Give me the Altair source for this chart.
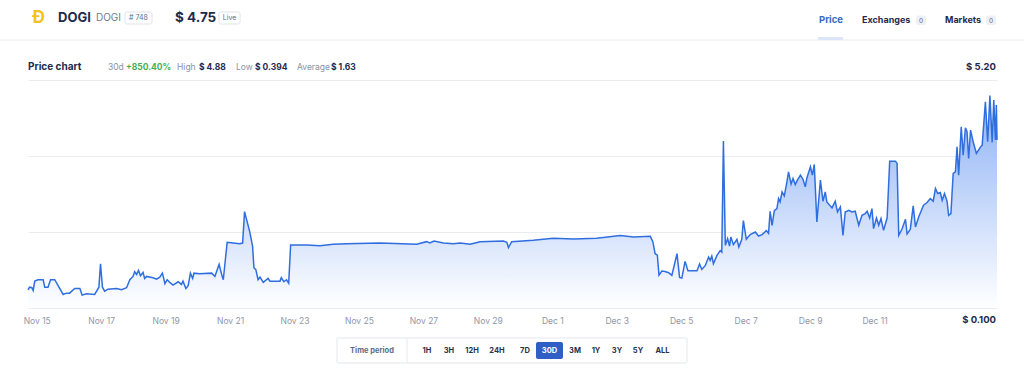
import altair as alt
import pandas as pd

# ---- data (days after Nov 15 2023, price in USD) ----
day_offsets = [
    -0.27, -0.22, -0.15, -0.11, -0.06, 0.04, 0.20, 0.25, 0.35, 0.43, 0.56, 0.82, 0.92, 1.02, 1.18, 1.34,
    1.41, 1.54, 1.80, 1.93, 1.98, 2.04, 2.11, 2.21, 2.48, 2.63, 2.79, 2.89, 2.99, 3.04, 3.10, 3.16,
    3.22, 3.30, 3.35, 3.41, 3.61, 3.72, 3.82, 3.90, 3.98, 4.05, 4.13, 4.23, 4.39, 4.49, 4.54, 4.63,
    4.70, 4.77, 4.84, 4.88, 5.06, 5.43, 5.53, 5.66, 5.74, 5.79, 5.91, 6.10, 6.30, 6.39, 6.45, 6.61,
    6.70, 6.74, 6.80, 6.87, 6.93, 7.03, 7.18, 7.24, 7.55, 7.59, 7.67, 7.75, 7.82, 7.88, 8.38, 8.79,
    9.20, 9.62, 10.65, 11.79, 12.10, 12.20, 12.33, 12.62, 12.93, 13.14, 13.45, 13.76, 14.48, 14.59, 14.64, 14.74,
    15.41, 16.03, 16.66, 17.38, 18.11, 18.52, 19.04, 19.12, 19.19, 19.26, 19.31, 19.40, 19.50, 19.61, 19.71, 19.87,
    19.95, 20.02, 20.12, 20.21, 20.49, 20.57, 20.64, 20.75, 20.85, 20.90, 20.95, 21.00, 21.11, 21.21, 21.26, 21.31,
    21.37, 21.44, 21.50, 21.54, 21.62, 21.73, 21.79, 21.88, 21.93, 22.02, 22.14, 22.30, 22.40, 22.51, 22.64, 22.71,
    22.76, 22.82, 22.89, 22.97, 23.02, 23.07, 23.13, 23.20, 23.28, 23.33, 23.41, 23.47, 23.54, 23.61, 23.70, 23.78,
    23.85, 23.90, 24.01, 24.07, 24.13, 24.21, 24.32, 24.40, 24.47, 24.52, 24.68, 24.78, 24.85, 24.94, 25.02, 25.09,
    25.20, 25.30, 25.40, 25.51, 25.61, 25.71, 25.77, 25.85, 25.92, 25.97, 26.06, 26.13, 26.20, 26.28, 26.39, 26.47,
    26.65, 26.70, 26.75, 26.85, 26.96, 27.01, 27.11, 27.20, 27.27, 27.37, 27.52, 27.63, 27.73, 27.82, 27.89, 27.96,
    28.04, 28.10, 28.17, 28.25, 28.30, 28.37, 28.44, 28.51, 28.56, 28.61, 28.69, 28.75, 28.82, 28.87, 28.92, 28.98,
    29.06, 29.16, 29.29, 29.34, 29.44, 29.51, 29.58, 29.65, 29.70, 29.75, 29.78, 29.80,
]
prices = [
    0.508, 0.566, 0.553, 0.492, 0.701, 0.732, 0.732, 0.566, 0.566, 0.732, 0.732, 0.403, 0.432, 0.432, 0.537, 0.537,
    0.387, 0.418, 0.403, 0.566, 1.091, 0.566, 0.477, 0.522, 0.537, 0.508, 0.553, 0.732, 0.806, 0.912, 0.851, 0.941,
    0.822, 0.896, 0.761, 0.806, 0.777, 0.746, 0.791, 0.880, 0.643, 0.732, 0.672, 0.611, 0.687, 0.627, 0.701, 0.537,
    0.598, 0.880, 0.761, 0.880, 0.867, 0.880, 0.806, 1.075, 0.851, 0.732, 1.569, 1.553, 1.539, 1.553, 2.257, 1.809,
    1.479, 1.001, 0.957, 0.732, 0.791, 0.672, 0.761, 0.701, 0.701, 0.777, 0.687, 0.732, 0.656, 1.508, 1.508, 1.495,
    1.524, 1.539, 1.553, 1.524, 1.584, 1.553, 1.598, 1.553, 1.539, 1.553, 1.524, 1.584, 1.598, 1.569, 1.450, 1.584,
    1.613, 1.658, 1.643, 1.658, 1.719, 1.687, 1.703, 1.584, 1.315, 1.284, 0.835, 0.925, 0.918, 0.889, 0.829, 1.315,
    0.784, 0.768, 1.143, 0.934, 0.934, 1.082, 0.963, 1.053, 1.239, 1.165, 1.261, 1.091, 1.277, 1.383, 1.351, 3.833,
    1.501, 1.652, 1.486, 1.687, 1.517, 1.636, 1.463, 1.636, 2.055, 1.636, 1.741, 1.800, 1.710, 1.741, 1.831, 1.770,
    2.264, 1.950, 2.279, 2.324, 2.548, 2.472, 2.696, 2.607, 2.921, 3.145, 2.876, 2.997, 2.862, 2.966, 3.071, 2.981,
    2.809, 3.010, 3.257, 3.071, 3.311, 2.024, 2.959, 2.488, 2.696, 2.472, 2.338, 2.488, 2.248, 2.360, 1.726, 2.248,
    2.286, 2.248, 2.264, 1.950, 2.174, 2.212, 2.264, 2.113, 2.324, 1.876, 2.113, 1.950, 2.100, 1.838, 2.113, 3.385,
    3.385, 3.333, 1.726, 1.860, 2.084, 1.755, 1.860, 2.383, 1.912, 2.136, 2.398, 2.459, 2.548, 2.488, 2.773, 2.661,
    2.683, 2.510, 2.661, 2.488, 2.174, 2.212, 3.109, 3.145, 3.705, 3.071, 4.154, 3.519, 4.131, 4.042, 3.445, 4.080,
    3.818, 3.557, 3.705, 3.744, 4.714, 3.818, 4.850, 3.804, 4.753, 3.856, 4.640, 3.856,
]
tick_days = ["2023-11-15", "2023-11-17", "2023-11-19", "2023-11-21", "2023-11-23", "2023-11-25", "2023-11-27",
             "2023-11-29", "2023-12-01", "2023-12-03", "2023-12-05", "2023-12-07", "2023-12-09", "2023-12-11"]
y_min, y_max = 0.1, 5.2
grid_values = [0.1, 1.8, 3.5, 5.2]
periods = ["1H", "3H", "12H", "24H", "7D", "30D", "3M", "1Y", "3Y", "5Y", "ALL"]

base = pd.Timestamp("2023-11-15")
df = pd.DataFrame({
    "time": [base + pd.to_timedelta(d, unit="D") for d in day_offsets],
    "price": prices,
})

FONT = "Inter"
LEFT, TOP = 28, 80
W, H = 969, 228

x_enc = alt.X("time:T", title=None,
              scale=alt.Scale(nice=False),
              axis=alt.Axis(values=[alt.DateTime(year=int(s[:4]), month=int(s[5:7]), date=int(s[8:]))
                                    for s in tick_days],
                            format="%b %-d", grid=False, ticks=False, domain=False,
                            labelPadding=8, labelFontSize=8.5, labelColor="#8e97a9",
                            labelFont=FONT))
y_enc = alt.Y("price:Q", title=None,
              scale=alt.Scale(domain=[y_min, y_max], nice=False, zero=False),
              axis=alt.Axis(values=grid_values, labels=False, ticks=False, domain=False,
                            gridColor="#e9edf2", gridWidth=1))

area = alt.Chart(df).mark_area(
    color=alt.Gradient(gradient="linear",
                       stops=[alt.GradientStop(color="#ffffff", offset=0),
                              alt.GradientStop(color="#8bb0f5", offset=1)],
                       x1=1, x2=1, y1=1, y2=0),
    line=False,
).encode(x=x_enc, y=y_enc, y2=alt.datum(y_min))

line = alt.Chart(df).mark_line(color="#2f6ee0", strokeWidth=1.5).encode(x=x_enc, y=y_enc)

one = alt.Data(values=[{}])


def txt(s, x, y, size=9, color="#1f2b4d", weight="normal", align="left"):
    return alt.Chart(one).mark_text(text=s, font=FONT, fontSize=size, color=color,
                                    fontWeight=weight, align=align, baseline="middle").encode(
        x=alt.value(x - LEFT), y=alt.value(y - TOP))


def box(x1, x2, y1, y2, fill="#ffffff", stroke=None, radius=2):
    kw = dict(fill=fill, cornerRadius=radius)
    if stroke:
        kw.update(stroke=stroke, strokeWidth=1)
    return alt.Chart(one).mark_rect(**kw).encode(
        x=alt.value(x1 - LEFT), x2=alt.value(x2 - LEFT),
        y=alt.value(y1 - TOP), y2=alt.value(y2 - TOP))


def hrule(x1, x2, y, color="#e7eaf0", width=1):
    return alt.Chart(one).mark_rule(color=color, strokeWidth=width).encode(
        x=alt.value(x1 - LEFT), x2=alt.value(x2 - LEFT), y=alt.value(y - TOP))


def vrule(x, y1, y2, color="#e7eaf0"):
    return alt.Chart(one).mark_rule(color=color, strokeWidth=1).encode(
        x=alt.value(x - LEFT), y=alt.value(y1 - TOP), y2=alt.value(y2 - TOP))


deco = [
    hrule(0, 1024, 40),
    hrule(818, 843, 38.5, color="#dce6f6", width=3),
    txt("Ð", 32, 18, size=17, color="#f2c31c", weight="bold"),
    txt("DOGI", 58, 18, size=13, weight="bold"),
    txt("DOGI", 96, 18, size=10, color="#6e7b92"),
    box(125, 152, 12, 24, stroke="#dfe3ea"),
    txt("# 748", 138.5, 18, size=7, color="#5d6a82", align="center"),
    txt("$ 4.75", 175, 18, size=13.5, weight="bold"),
    box(219, 240, 12, 24, stroke="#dfe3ea"),
    txt("Live", 229.5, 18, size=7, color="#5d6a82", align="center"),
    txt("Price", 819, 20, size=9.5, color="#3567c4", weight="bold"),
    txt("Exchanges", 862, 20, size=9, weight="bold"),
    box(916, 926, 15.5, 25, fill="#edf1f7"),
    txt("0", 921, 20.5, size=6.5, color="#5d6a82", align="center"),
    txt("Markets", 945, 20, size=9, weight="bold"),
    box(986, 996, 15.5, 25, fill="#edf1f7"),
    txt("0", 991, 20.5, size=6.5, color="#5d6a82", align="center"),
    txt("Price chart", 28, 67, size=10, weight="bold"),
    txt("30d", 108, 67, size=8.5, color="#8a93a6"),
    txt("+850.40%", 126, 67, size=8.5, color="#3fb04f", weight="bold"),
    txt("High", 177, 67, size=8.5, color="#8a93a6"),
    txt("$ 4.88", 199, 67, size=8.5, weight="bold"),
    txt("Low", 236, 67, size=8.5, color="#8a93a6"),
    txt("$ 0.394", 255, 67, size=8.5, weight="bold"),
    txt("Average", 297, 67, size=8.5, color="#8a93a6"),
    txt("$ 1.63", 331, 67, size=8.5, weight="bold"),
    txt("$ 5.20", 996, 67, size=9.5, weight="bold", align="right"),
    txt("$ 0.100", 996, 320, size=9.5, weight="bold", align="right"),
    box(337, 687, 338, 363, stroke="#e3e7ee", radius=1),
    vrule(407, 338, 363),
    txt("Time period", 372, 350.5, size=7.5, color="#5b6b8e", weight="bold", align="center"),
    box(536, 563, 342, 359, fill="#2f5fc4", radius=2),
]
period_x = [427, 449, 472, 497, 525, 549.5, 575, 596, 617, 638, 662.5]
for p, px in zip(periods, period_x):
    deco.append(txt(p, px, 350.5, size=7.5, color="#ffffff" if p == "30D" else "#27324d",
                    weight="bold", align="center"))

chart = alt.layer(area, line, *deco).properties(
    width=W, height=H,
    padding={"left": LEFT, "top": TOP, "right": 1024 - LEFT - W, "bottom": 377 - TOP - H},
    autosize=alt.AutoSizeParams(type="none"),
    background="#ffffff",
).configure_view(stroke=None)

chart.save("out.html", embed_options={"renderer": "svg", "actions": False})
